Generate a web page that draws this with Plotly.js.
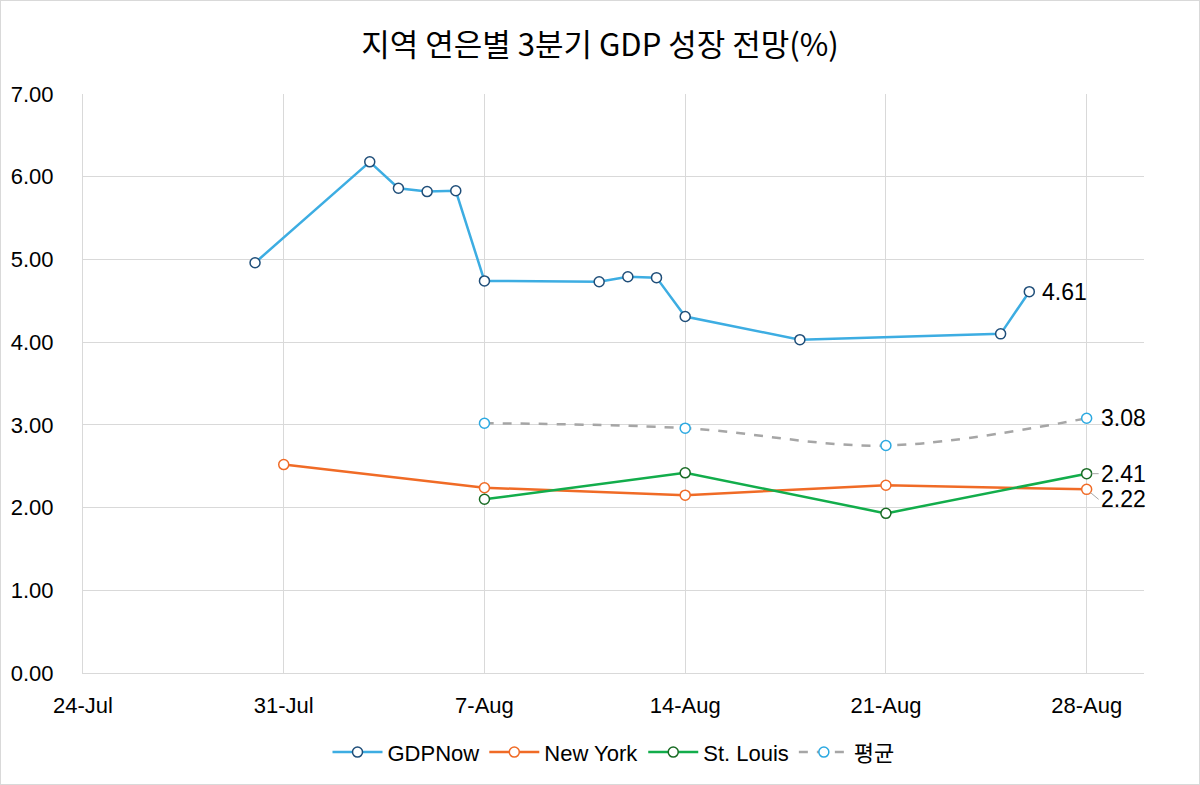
<!DOCTYPE html>
<html>
<head>
<meta charset="utf-8">
<script src="https://cdn.plot.ly/plotly-3.0.1.min.js"></script>
<style>
  body { margin: 0; background: #fff; }
  #chart { width: 1200px; height: 785px; box-sizing: border-box; border: 1px solid #D9D9D9; }
</style>
</head>
<body>
<div id="chart"></div>
<script>
// 지역 연은별 3분기 GDP 성장 전망 데이터
var gdpnowDates = ['2023-07-30', '2023-08-03', '2023-08-04', '2023-08-05', '2023-08-06',
                   '2023-08-07', '2023-08-11', '2023-08-12', '2023-08-13', '2023-08-14',
                   '2023-08-18', '2023-08-25', '2023-08-26'];
var gdpnowValues = [4.96, 6.18, 5.86, 5.82, 5.83, 4.74, 4.73, 4.79, 4.78, 4.31, 4.03, 4.10, 4.61];

var nyDates = ['2023-07-31', '2023-08-07', '2023-08-14', '2023-08-21', '2023-08-28'];
var nyValues = [2.52, 2.24, 2.15, 2.27, 2.22];

var stlDates = ['2023-08-07', '2023-08-14', '2023-08-21', '2023-08-28'];
var stlValues = [2.10, 2.42, 1.93, 2.41];

var avgDates = ['2023-08-07', '2023-08-14', '2023-08-21', '2023-08-28'];
var avgValues = [3.02, 2.96, 2.75, 3.08];

var seriesNames = ['GDPNow', 'New York', 'St. Louis', '평균'];

var font = 'Liberation Sans, Arial, sans-serif';

function line(name, x, y, color, edge, dash, shape) {
  return {
    type: 'scatter', mode: 'lines+markers', name: name, x: x, y: y,
    line: { color: color, width: 2.5, dash: dash || 'solid', shape: shape || 'linear' },
    marker: { size: 10, color: '#ffffff', line: { color: edge, width: 1.5 } },
    hoverinfo: 'x+y'
  };
}

var data = [
  line(seriesNames[0], gdpnowDates, gdpnowValues, '#3DADE2', '#1F4E79'),
  line(seriesNames[1], nyDates, nyValues, '#F06B26', '#F06B26'),
  line(seriesNames[2], stlDates, stlValues, '#12AD4B', '#196B24'),
  line(seriesNames[3], avgDates, avgValues, '#A6A6A6', '#2CA9E1', 'dash', 'spline')
];

function last(a) { return a[a.length - 1]; }

var labelFont = { family: font, size: 23, color: '#000' };
var annotations = [
  { x: last(gdpnowDates), y: last(gdpnowValues), text: last(gdpnowValues).toFixed(2),
    showarrow: false, xanchor: 'left', xshift: 11, font: labelFont },
  { x: last(avgDates), y: last(avgValues), text: last(avgValues).toFixed(2),
    showarrow: false, xanchor: 'left', xshift: 12, font: labelFont },
  { x: last(stlDates), y: last(stlValues), text: last(stlValues).toFixed(2),
    showarrow: true, arrowhead: 0, arrowwidth: 1, arrowcolor: '#A6A6A6', standoff: 5,
    ax: 12, ay: 0, xanchor: 'left', font: labelFont },
  { x: last(nyDates), y: last(nyValues), text: last(nyValues).toFixed(2),
    showarrow: true, arrowhead: 0, arrowwidth: 1, arrowcolor: '#A6A6A6', standoff: 5,
    ax: 12, ay: 10, xanchor: 'left', font: labelFont }
];

var layout = {
  width: 1198, height: 783,
  margin: { l: 82, r: 55, t: 93, b: 110 },
  paper_bgcolor: '#ffffff', plot_bgcolor: '#ffffff',
  font: { family: font, size: 22, color: '#000' },
  title: {
    text: '지역 연은별 3분기 GDP 성장 전망(%)',
    font: { family: 'Noto Sans CJK KR, sans-serif', size: 31, color: '#000' },
    x: 0.5, xanchor: 'center', y: 0.943, yanchor: 'middle'
  },
  xaxis: {
    type: 'date',
    range: ['2023-07-24', '2023-08-30'],
    tick0: '2023-07-24', dtick: 7 * 24 * 3600 * 1000,
    tickformat: '%-d-%b',
    showgrid: true, gridcolor: '#D9D9D9', gridwidth: 1,
    showline: true, linecolor: '#D9D9D9', linewidth: 1,
    zeroline: false, ticks: '', ticklabelstandoff: 13,
    tickfont: { family: font, size: 22, color: '#000' }
  },
  yaxis: {
    range: [0, 7], dtick: 1, tickformat: '.2f',
    showgrid: true, gridcolor: '#D9D9D9', gridwidth: 1,
    showline: true, linecolor: '#D9D9D9', linewidth: 1,
    zeroline: false, ticks: '', ticklabelstandoff: 24,
    tickfont: { family: font, size: 22, color: '#000' }
  },
  legend: {
    orientation: 'h', x: 0.5, xanchor: 'center', y: -0.135, yanchor: 'middle',
    font: { family: 'Liberation Sans, Noto Sans CJK KR, sans-serif', size: 22, color: '#000' },
    itemwidth: 50
  },
  annotations: annotations,
  showlegend: true
};

Plotly.newPlot('chart', data, layout, { displayModeBar: false, staticPlot: true });
</script>
</body>
</html>
